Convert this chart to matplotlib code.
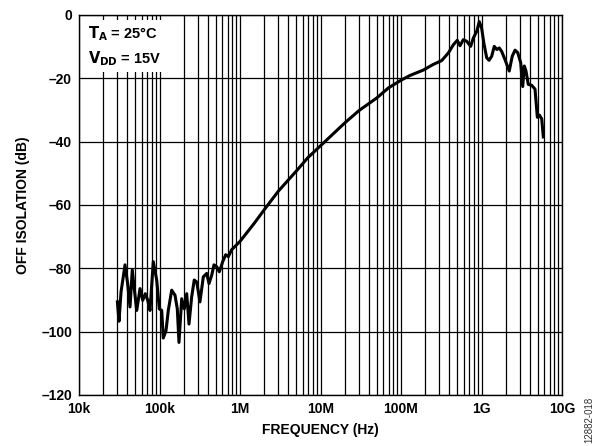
import matplotlib
matplotlib.use("Agg")
import matplotlib.pyplot as plt
from matplotlib.ticker import NullFormatter, LogLocator

plt.rcParams['font.family'] = ['Liberation Sans', 'DejaVu Sans']

# Frequency (Hz) and off isolation (dB)
freq_low = [3.0e4, 3.14e4, 3.33e4, 3.73e4, 4.02e4, 4.30e4, 4.59e4, 4.86e4, 5.21e4, 5.73e4,
            6.19e4, 6.66e4, 7.13e4, 7.62e4, 8.37e4, 9.23e4, 9.95e4, 1.065e5, 1.114e5, 1.204e5,
            1.286e5, 1.418e5, 1.559e5, 1.664e5, 1.746e5, 1.887e5, 2.033e5, 2.178e5, 2.325e5, 2.51e5,
            2.70e5, 2.90e5, 3.18e5, 3.50e5, 3.86e5, 4.12e5, 4.45e5, 4.75e5, 5.14e5, 5.53e5,
            6.10e5, 6.64e5, 7.16e5, 7.89e5]
iso_low = [-90.6, -96.7, -87.4, -78.9, -84.8, -92.2, -80.5, -86.4, -93.3, -86.4,
           -90.1, -88.0, -90.0, -93.3, -77.9, -83.7, -92.8, -93.3, -102.0, -99.7,
           -93.3, -86.9, -88.5, -92.8, -103.4, -89.6, -92.8, -88.0, -97.6, -89.0,
           -83.7, -84.3, -90.6, -82.7, -81.6, -84.8, -82.2, -78.9, -79.5, -81.1,
           -77.9, -75.7, -76.3, -74.1]
freq_mid = [1.0e6, 1.5e6, 2.0e6, 3.0e6, 5.0e6, 7.0e6, 1.0e7, 2.0e7, 3.0e7, 5.0e7, 7.0e7, 1.0e8]
iso_mid = [-71.5, -65.8, -61.5, -55.6, -49.3, -45.0, -41.3, -34.1, -30.2, -26.2, -23.0, -20.6]
freq_high = [1.29e8, 1.89e8, 2.52e8, 3.20e8, 3.87e8, 4.47e8, 5.00e8, 5.41e8, 5.94e8, 6.55e8,
             7.34e8, 7.91e8, 8.71e8, 9.39e8, 1.005e9, 1.07e9, 1.16e9, 1.24e9, 1.34e9, 1.44e9,
             1.55e9, 1.66e9, 1.78e9, 1.96e9, 2.21e9, 2.41e9, 2.61e9, 2.82e9, 3.07e9, 3.25e9,
             3.40e9, 3.57e9, 3.81e9, 4.20e9, 4.62e9, 4.94e9, 5.23e9, 5.60e9, 5.86e9]
iso_high = [-19.1, -17.4, -15.6, -14.4, -12.0, -9.4, -8.0, -9.7, -7.8, -8.3,
            -9.9, -7.3, -5.2, -2.1, -4.2, -8.9, -13.5, -14.3, -13.0, -9.9,
            -10.9, -10.4, -11.5, -14.1, -17.7, -13.0, -11.1, -11.9, -15.1, -22.6,
            -16.1, -17.7, -21.9, -22.2, -23.4, -32.3, -31.6, -32.8, -38.5]

freq = freq_low + freq_mid + freq_high
iso = iso_low + iso_mid + iso_high

x_ticks = [1e4, 1e5, 1e6, 1e7, 1e8, 1e9, 1e10]
x_labels = ['10k', '100k', '1M', '10M', '100M', '1G', '10G']
y_ticks = [0, -20, -40, -60, -80, -100, -120]
y_labels = ['0', '–20', '–40', '–60', '–80', '–100', '–120']

fig = plt.figure(figsize=(5.96, 4.46), dpi=100)
ax = fig.add_axes([79/596, 1 - 395/446, (562 - 79)/596, (395 - 15)/446])

ax.plot(freq, iso, color='black', lw=2.2, solid_joinstyle='round', zorder=3)

ax.set_xscale('log')
ax.set_xlim(1e4, 1e10)
ax.set_ylim(-120, 0)
ax.set_xticks(x_ticks)
ax.set_xticklabels(x_labels)
ax.xaxis.set_minor_locator(LogLocator(base=10, subs=range(2, 10), numticks=100))
ax.xaxis.set_minor_formatter(NullFormatter())
ax.set_yticks(y_ticks)
ax.set_yticklabels(y_labels)

ax.grid(True, which='major', axis='both', color='black', lw=0.9)
ax.grid(True, which='minor', axis='x', color='black', lw=0.9)
ax.tick_params(which='both', length=0, labelsize=10, pad=5)
for lab in ax.get_xticklabels() + ax.get_yticklabels():
    lab.set_fontweight('bold')
for s in ax.spines.values():
    s.set_linewidth(1.0)

ax.set_xlabel('FREQUENCY (Hz)', fontsize=10, fontweight='bold', labelpad=5)
ax.set_ylabel('OFF ISOLATION (dB)', fontsize=10, fontweight='bold', labelpad=8)

ax.text(0.018, 0.975, '$\\mathbf{T_A}$ = 25°C\n$\\mathbf{V_{DD}}$ = 15V', transform=ax.transAxes,
        ha='left', va='top', fontsize=10.5, fontweight='bold', linespacing=1.4,
        bbox=dict(facecolor='white', edgecolor='none', pad=3), zorder=4)

fig.text(589/596, 1 - 420/446, '12882-018', rotation=90, fontsize=7, ha='center', va='center', color='#333333')

fig.savefig('out.png', dpi=100)
